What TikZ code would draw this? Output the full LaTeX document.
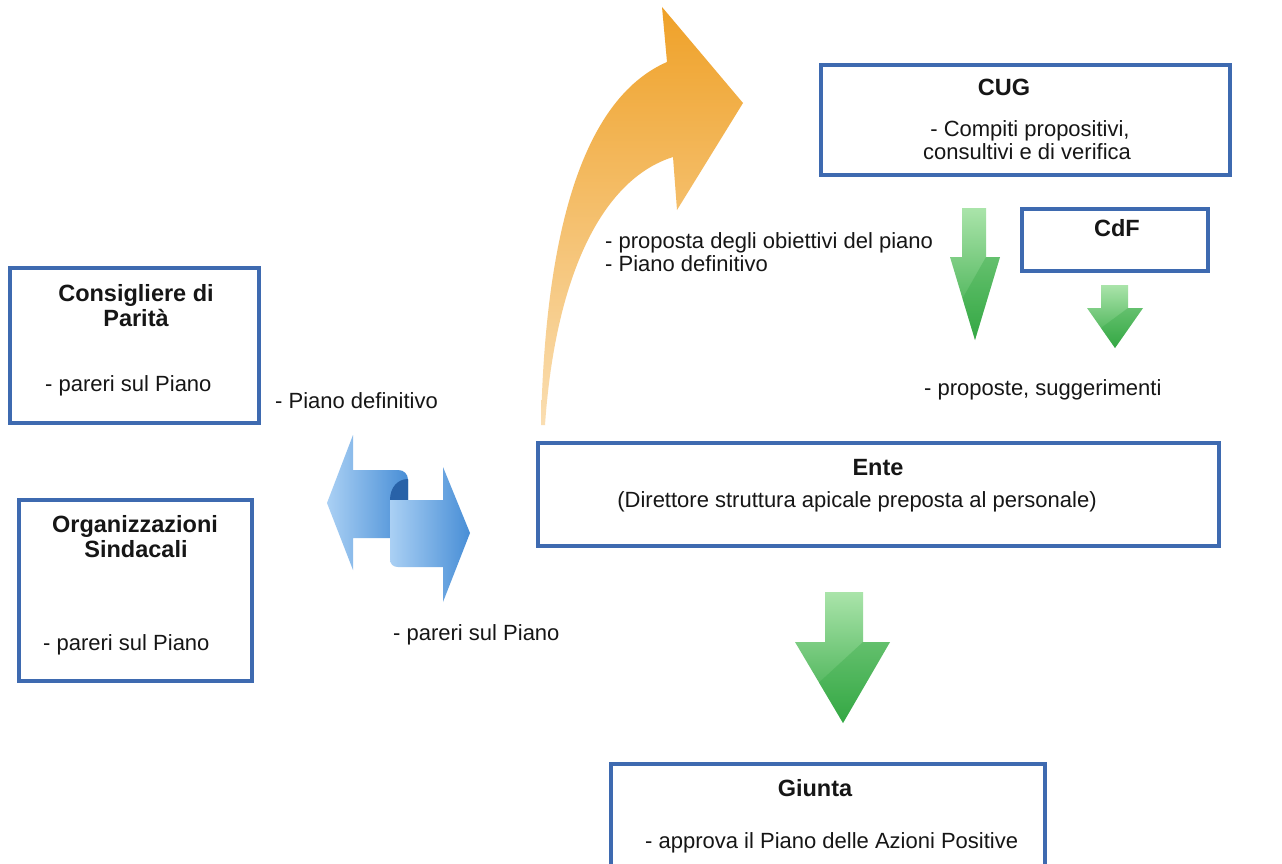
\documentclass[tikz,border=0pt]{standalone}
\usepackage{fontspec}
\setmainfont{Liberation Sans}
\usetikzlibrary{calc}
\definecolor{boxblue}{RGB}{62,106,176}
\definecolor{orng}{RGB}{239,161,40}
\definecolor{orngl}{RGB}{250,222,178}
\definecolor{bluel}{RGB}{170,208,244}
\definecolor{bluem}{RGB}{72,142,214}
\definecolor{bluedd}{RGB}{40,98,168}
\definecolor{greenl}{RGB}{170,228,170}
\definecolor{greend}{RGB}{52,168,68}
\definecolor{ink}{RGB}{22,22,22}
\newcommand{\greenarrow}[8]{%
  \shade[top color=greenl, bottom color=greend]
    (#1,#3) -- (#2,#3) -- (#2,#4) -- (#6,#4) -- (#7,#8) -- (#5,#4) -- (#1,#4) -- cycle;
  \fill[greend, opacity=0.35]
    (#2,#4) -- (#6,#4) -- (#7,#8) -- ($(#5,#4)!0.5!(#7,#8)$) -- cycle;
}
\begin{document}
\begin{tikzpicture}[x=1pt,y=-1pt,
  box/.style={draw=boxblue, line width=3.6pt, rectangle, inner sep=0pt, fill=white},
  txt/.style={inner sep=0pt, text=ink, font=\fontsize{22}{23}\selectfont},
  btxt/.style={txt, font=\fontsize{23.5}{25}\selectfont\bfseries}]
\clip (0,0) rectangle (1282,864);
\fill[white] (0,0) rectangle (1282,864);

% boxes
\node[box, minimum width=409pt, minimum height=110pt] (cug) at (1025.5,120) {};
\node[box, minimum width=186pt, minimum height=62pt] (cdf) at (1115,240) {};
\node[box, minimum width=249pt, minimum height=155pt] (cons) at (134.5,345.5) {};
\node[box, minimum width=233pt, minimum height=181pt] (org) at (135.5,590.5) {};
\node[box, minimum width=681pt, minimum height=103pt] (ente) at (878.5,494.5) {};
\node[box, minimum width=434pt, minimum height=120pt] (giunta) at (828,824) {};

% box texts
\node[btxt, anchor=base] (cugT) at (1004,96) {CUG};
\node[txt, anchor=base] (cugA) at (1030,136) {- Compiti propositivi,};
\node[txt, anchor=base] (cugB) at (1027,159) {consultivi e di verifica};
\node[btxt, anchor=base] (cdfT) at (1117,236) {CdF};
\node[btxt, anchor=base] (consA) at (136,301) {Consigliere di};
\node[btxt, anchor=base] (consB) at (136,326) {Parità};
\node[txt, anchor=base west] (consC) at (45,391) {- pareri sul Piano};
\node[btxt, anchor=base] (orgA) at (135,532) {Organizzazioni};
\node[btxt, anchor=base] (orgB) at (136,557) {Sindacali};
\node[txt, anchor=base west] (orgC) at (43,650) {- pareri sul Piano};
\node[btxt, anchor=base] (enteT) at (878,475) {Ente};
\node[txt, anchor=base] (enteA) at (857,507) {(Direttore struttura apicale preposta al personale)};
\node[btxt, anchor=base] (giuT) at (815,796) {Giunta};
\node[txt, anchor=base west] (giuA) at (645,848) {- approva il Piano delle Azioni Positive};

% free labels
\node[txt, anchor=base west] (lab1) at (605,248) {- proposta degli obiettivi del piano};
\node[txt, anchor=base west] (lab2) at (605,271) {- Piano definitivo};
\node[txt, anchor=base west] (lab3) at (924,395) {- proposte, suggerimenti};
\node[txt, anchor=base west] (lab4) at (275,408) {- Piano definitivo};
\node[txt, anchor=base west] (lab5) at (393,640) {- pareri sul Piano};

% orange curved arrow
\shade[top color=orng, middle color=orng, bottom color=orngl]
  (541,425) .. controls (545,240) and (580,100) .. (667,62)
  -- (662,7) -- (743,103) -- (677,210) -- (673,157)
  .. controls (600,180) and (555,280) .. (545,425) -- cycle;

% blue double arrow
\shade[left color=bluel, right color=bluem]
  (327,503) -- (353,435) -- (353,470) -- (398,470)
  .. controls (404,470) and (408,474) .. (408,480)
  -- (408,538) -- (353,538) -- (353,570) -- cycle;
\fill[bluedd] (390,500) .. controls (390,487) and (398,479) .. (408,479) -- (408,500) -- cycle;
\shade[left color=bluel, right color=bluem]
  (390,500) -- (443,500) -- (443,467) -- (470,533) -- (443,602) -- (443,567)
  -- (398,567) .. controls (393,567) and (390,564) .. (390,559) -- cycle;

% green arrows
\greenarrow{962}{986}{208}{257}{950}{1000}{975}{340}
\greenarrow{1101}{1128}{285}{308}{1087}{1143}{1115}{348}
\greenarrow{825}{863}{592}{642}{795}{890}{843}{723}
\end{tikzpicture}
\end{document}
